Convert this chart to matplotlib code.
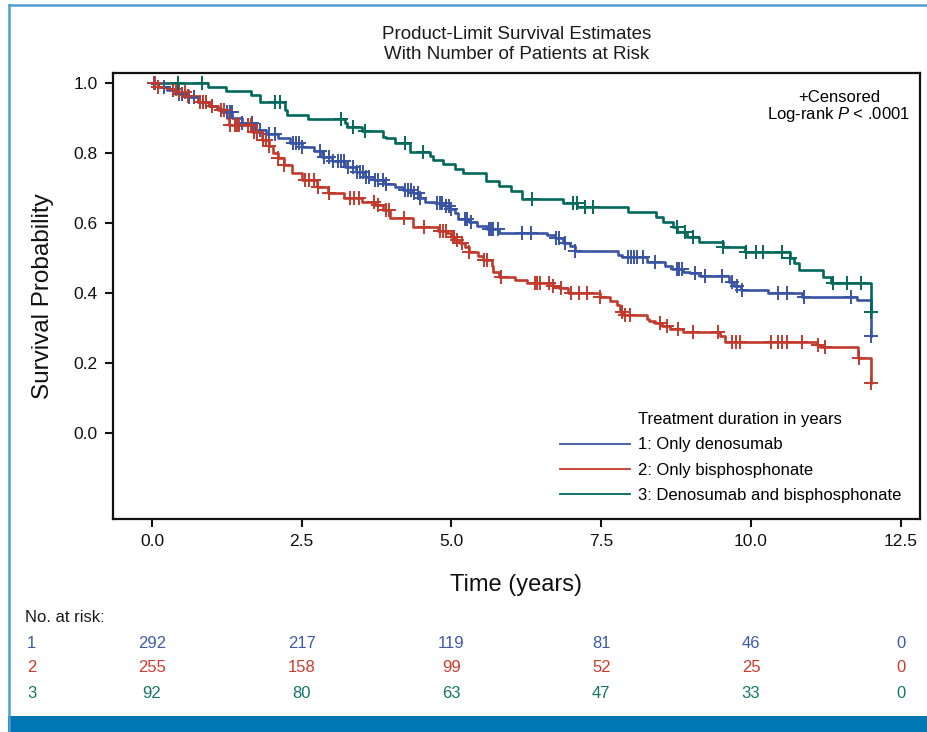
import matplotlib
matplotlib.use('Agg')
import matplotlib.pyplot as plt
import matplotlib.transforms as mtransforms
from matplotlib.lines import Line2D
from matplotlib.patches import Rectangle
import numpy as np

plt.rcParams['font.family'] = ['Liberation Sans', 'DejaVu Sans']
plt.rcParams['mathtext.fontset'] = 'custom'
plt.rcParams['mathtext.it'] = 'Liberation Sans:italic'
plt.rcParams['mathtext.rm'] = 'Liberation Sans'

# --- data (time in years, survival probability) ---
blue_t = [0, 0.1, 0.25, 0.43, 0.6, 0.77, 0.95, 1.08, 1.17, 1.34, 1.5, 1.72, 1.9, 2.1, 2.3, 2.5, 2.7, 2.84, 3.0, 3.22,
          3.4, 3.55, 3.7, 3.89, 4.05, 4.19, 4.35, 4.47, 4.55, 4.72, 4.89, 4.97, 5.06, 5.11, 5.3, 5.42, 5.6, 5.8, 6.59, 6.72,
          6.86, 6.97, 7.06, 7.78, 7.84, 8.26, 8.56, 8.68, 8.86, 8.98, 9.15, 9.63, 9.72, 9.83, 10.28, 10.85, 11.77, 12.0]
blue_s = [1.0, 0.99, 0.98, 0.97, 0.96, 0.947, 0.935, 0.926, 0.918, 0.899, 0.885, 0.866, 0.855, 0.842, 0.83, 0.818, 0.805, 0.79, 0.778, 0.761,
          0.745, 0.732, 0.722, 0.713, 0.703, 0.694, 0.685, 0.671, 0.661, 0.656, 0.649, 0.639, 0.628, 0.613, 0.604, 0.591, 0.583, 0.573, 0.566, 0.556,
          0.544, 0.534, 0.52, 0.509, 0.504, 0.489, 0.476, 0.469, 0.461, 0.458, 0.449, 0.432, 0.42, 0.409, 0.399, 0.39, 0.38, 0.277]
blue_cens = [0.03, 0.2, 0.35, 0.45, 0.5, 0.62, 0.7, 0.85, 1.0, 1.25, 1.3, 1.33, 1.5, 1.67, 1.8, 1.95, 2.05, 2.35, 2.4, 2.45,
             2.5, 2.8, 2.88, 2.95, 3.02, 3.1, 3.15, 3.2, 3.28, 3.35, 3.42, 3.48, 3.52, 3.58, 3.62, 3.72, 3.78, 3.85, 3.9, 4.22,
             4.27, 4.32, 4.38, 4.44, 4.48, 4.76, 4.8, 4.84, 4.9, 4.95, 5.0, 5.22, 5.26, 5.32, 5.62, 5.66, 5.7, 5.78, 6.17, 6.32,
             6.75, 6.8, 6.9, 7.06, 7.95, 8.0, 8.05, 8.1, 8.2, 8.4, 8.76, 8.8, 8.85, 9.06, 9.23, 9.51, 9.68, 9.76, 9.85, 10.45,
             10.6, 10.88, 11.67, 12.0]

red_t = [0, 0.1, 0.25, 0.43, 0.6, 0.77, 0.95, 1.1, 1.25, 1.29, 1.67, 1.83, 1.95, 2.02, 2.1, 2.2, 2.34, 2.5, 2.75, 2.94,
         3.2, 3.5, 3.72, 3.85, 3.97, 4.36, 4.78, 4.93, 5.0, 5.06, 5.14, 5.22, 5.3, 5.44, 5.52, 5.67, 5.7, 5.8, 6.06, 6.26,
         6.7, 6.8, 6.94, 7.48, 7.64, 7.76, 7.81, 7.86, 8.26, 8.3, 8.4, 8.51, 8.64, 8.86, 9.48, 9.56, 11.1, 11.15, 11.78, 12.0]
red_s = [1.0, 0.99, 0.982, 0.975, 0.962, 0.947, 0.935, 0.924, 0.9, 0.88, 0.861, 0.837, 0.82, 0.799, 0.786, 0.766, 0.742, 0.723, 0.704, 0.685,
         0.672, 0.661, 0.651, 0.637, 0.614, 0.589, 0.577, 0.571, 0.56, 0.551, 0.543, 0.531, 0.517, 0.506, 0.494, 0.478, 0.461, 0.447, 0.437, 0.428,
         0.421, 0.413, 0.399, 0.39, 0.377, 0.366, 0.347, 0.337, 0.326, 0.321, 0.314, 0.306, 0.296, 0.288, 0.277, 0.261, 0.251, 0.247, 0.213, 0.142]
red_cens = [0.05, 0.1, 0.35, 0.4, 0.45, 0.55, 0.6, 0.8, 0.85, 0.9, 1.0, 1.15, 1.2, 1.3, 1.38, 1.42, 1.45, 1.6, 1.65, 1.7,
            1.75, 1.85, 1.9, 1.95, 2.1, 2.2, 2.55, 2.62, 2.7, 2.78, 2.95, 3.3, 3.38, 3.45, 3.7, 3.78, 3.9, 3.95, 4.2, 4.54,
            4.8, 4.85, 4.9, 5.02, 5.05, 5.1, 5.17, 5.3, 5.55, 5.6, 5.82, 6.4, 6.43, 6.47, 6.63, 6.7, 6.82, 7.0, 7.13, 7.27,
            7.48, 7.85, 7.9, 7.98, 8.48, 8.6, 8.78, 9.03, 9.45, 9.68, 9.75, 9.82, 10.33, 10.45, 10.52, 10.6, 10.85, 11.12, 11.23, 11.8,
            12.0]

green_t = [0, 0.93, 1.24, 1.65, 1.8, 2.22, 2.25, 2.6, 3.22, 3.25, 3.5, 3.86, 3.9, 4.06, 4.3, 4.64, 4.69, 4.86, 5.06, 5.2,
           5.57, 5.79, 6.0, 6.18, 6.86, 7.1, 7.94, 8.41, 8.53, 8.7, 8.77, 8.93, 9.13, 9.53, 9.9, 10.65, 10.72, 10.8, 11.2, 11.33,
           12.0]
green_s = [1.0, 0.988, 0.977, 0.966, 0.945, 0.923, 0.909, 0.897, 0.885, 0.875, 0.864, 0.847, 0.842, 0.829, 0.804, 0.792, 0.78, 0.769, 0.754, 0.744,
           0.72, 0.707, 0.691, 0.669, 0.658, 0.646, 0.632, 0.618, 0.604, 0.589, 0.575, 0.561, 0.547, 0.532, 0.518, 0.499, 0.485, 0.466, 0.447, 0.429,
           0.347]
green_cens = [0.43, 0.83, 2.05, 2.13, 3.15, 3.35, 3.55, 4.22, 4.52, 6.34, 7.03, 7.09, 7.23, 7.36, 8.76, 8.9, 9.03, 9.53, 9.92, 10.08,
              10.2, 10.52, 10.65, 11.37, 11.6, 11.83, 12.0]

group_labels = ['1: Only denosumab', '2: Only bisphosphonate', '3: Denosumab and bisphosphonate']
risk_times = [0, 2.5, 5, 7.5, 10, 12.5]
risk1 = [292, 217, 119, 81, 46, 0]
risk2 = [255, 158, 99, 52, 25, 0]
risk3 = [92, 80, 63, 47, 33, 0]

BLUE = '#3a54a4'
RED = '#c13a2c'
GREEN = '#00695c'
TXT_BLUE = '#3f5ba8'
TXT_RED = '#cc3b2c'
TXT_GREEN = '#127766'

W, H = 928, 732
fig = plt.figure(figsize=(W / 100, H / 100), dpi=100)
ax = fig.add_axes([113 / W, 1 - 519 / H, 807 / W, 446 / H])


def censor_y(t, s, c):
    # survival value of the step function at each censoring time
    idx = np.searchsorted(t, c, side='right') - 1
    return np.asarray(s)[idx]


curves = [(blue_t, blue_s, blue_cens, BLUE),
          (red_t, red_s, red_cens, RED),
          (green_t, green_s, green_cens, GREEN)]
for t, s, c, col in curves:
    ax.step(t, s, where='post', color=col, lw=1.9, zorder=3)
    ax.plot(c, censor_y(t, s, c), ls='none', marker='+', ms=10, mew=1.4, color=col, zorder=4)

ax.set_xlim(-0.65, 12.82)
ax.set_ylim(-0.246, 1.029)
ax.set_xticks(risk_times)
ax.set_xticklabels(['%.1f' % v for v in risk_times])
yt = [0.0, 0.2, 0.4, 0.6, 0.8, 1.0]
ax.set_yticks(yt)
ax.set_yticklabels(['%.1f' % v for v in yt])
ax.tick_params(length=5.5, width=1.5, labelsize=12.5, pad=5.5, color='#111111', labelcolor='#111111')
for sp in ax.spines.values():
    sp.set_linewidth(1.6)
    sp.set_color('#111111')

ax.set_xlabel('Time (years)', fontsize=17, labelpad=18, color='#111111')
ax.set_ylabel('Survival Probability', fontsize=17.5, labelpad=14, color='#111111')

fig.text(516.5 / W, 1 - 44.5 / H, 'Product-Limit Survival Estimates\nWith Number of Patients at Risk',
         ha='center', va='center', fontsize=13.5, linespacing=1.2, color='#1a1a1a')

ax.text(0.8996, 0.946, '+Censored', transform=ax.transAxes, ha='center', va='center', fontsize=12)
ax.text(0.8996, 0.906, r'Log-rank $\mathit{P}$ < .0001', transform=ax.transAxes, ha='center', va='center', fontsize=12)

handles = [Line2D([], [], color='none')] + [Line2D([], [], color=c, lw=1.3) for c in (BLUE, RED, GREEN)]
ax.legend(handles, ['Treatment duration in years'] + group_labels, loc='upper left',
          bbox_to_anchor=((560 - 113) / 807, (519 - 412) / 446), frameon=False, borderpad=0,
          borderaxespad=0, handlelength=4.2, handletextpad=0.5, labelspacing=0.62, fontsize=12)

# number at risk table
trans = mtransforms.blended_transform_factory(ax.transData, fig.transFigure)
fig.text(25 / W, 1 - 617 / H, 'No. at risk:', ha='left', va='center', fontsize=12, color='#1a1a1a')
rows = [(risk1, TXT_BLUE, 643), (risk2, TXT_RED, 668), (risk3, TXT_GREEN, 693)]
for i, (vals, col, ypx) in enumerate(rows):
    fig.text(27 / W, 1 - ypx / H, str(i + 1), ha='left', va='center', fontsize=12, color=col)
    for x, n in zip(risk_times, vals):
        ax.text(x, 1 - ypx / H, str(n), transform=trans, ha='center', va='center', fontsize=12, color=col)

# page decoration: light border and bottom band
fig.add_artist(Line2D([9 / W, 9 / W], [0, 1 - 5 / H], transform=fig.transFigure, color='#4f9fd0', lw=1.8))
fig.add_artist(Line2D([9 / W, 1], [1 - 5 / H, 1 - 5 / H], transform=fig.transFigure, color='#4f9fd0', lw=1.8))
fig.add_artist(Rectangle((8 / W, 0), 1, 16 / H, transform=fig.transFigure, color='#0076b4', lw=0))

fig.savefig('out.png', dpi=100)
